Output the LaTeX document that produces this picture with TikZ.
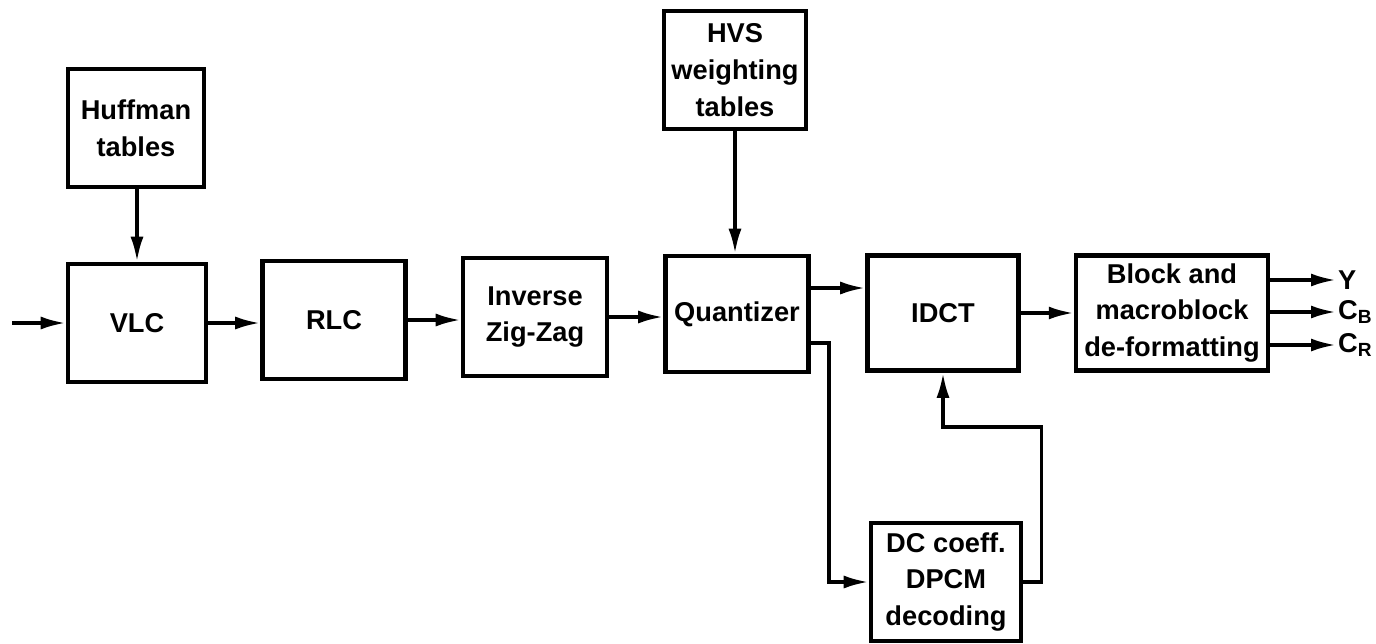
\documentclass[tikz,border=0pt]{standalone}
\usepackage{fontspec}
\setmainfont{Liberation Sans}
\usetikzlibrary{arrows.meta}

\begin{document}
\begin{tikzpicture}[x=0.02cm, y=-0.02cm,
    blk/.style={draw, line width=2.6pt, align=center, inner sep=2pt,
        font=\bfseries\fontsize{15.5}{21}\selectfont},
    lbl/.style={inner sep=1pt, font=\bfseries\fontsize{15.5}{21}\selectfont},
    flow/.style={line width=2pt, -{Latex[length=5mm,width=2.6mm]}}]
    \useasboundingbox (0,0) rectangle (1376,643);
    % tables
    \node[blk, minimum width=2.72cm, minimum height=2.36cm] (huff) at (136,128) {Huffman\\tables};
    \node[blk, minimum width=2.84cm, minimum height=2.36cm] (hvs) at (735,70) {HVS\\weighting\\tables};
    % main chain
    \node[blk, minimum width=2.76cm, minimum height=2.36cm] (vlc) at (137,323) {VLC};
    \node[blk, minimum width=2.86cm, minimum height=2.36cm] (rlc) at (334,320) {RLC};
    \node[blk, minimum width=2.88cm, minimum height=2.36cm] (izz) at (535,317) {Inverse\\Zig-Zag};
    \node[blk, minimum width=2.86cm, minimum height=2.32cm] (quant) at (737,314) {Quantizer};
    \node[blk, minimum width=3.02cm, minimum height=2.30cm] (idct) at (943,313) {IDCT};
    \node[blk, minimum width=3.84cm, minimum height=2.30cm] (block) at (1172,313) {Block and\\macroblock\\de-formatting};
    \node[blk, minimum width=3.00cm, minimum height=2.36cm] (dc) at (946,582) {DC coeff.\\DPCM\\decoding};
    % outputs
    \node[lbl, anchor=west] (outy) at (1336,280) {Y};
    \node[lbl, anchor=west] (outcb) at (1336,312) {C\textsubscript{B}};
    \node[lbl, anchor=west] (outcr) at (1336,345) {C\textsubscript{R}};
    \coordinate (in) at (12,323);

    \draw[flow] (in) -- (vlc.west);
    \draw[flow] (huff.south -| vlc.north) -- (vlc.north);
    \draw[flow] (hvs.south) -- (hvs.south |- quant.north);
    \draw[flow] (vlc.east) -- (vlc.east -| rlc.west);
    \draw[flow] (rlc.east) -- (rlc.east -| izz.west);
    \draw[flow] (izz.east) -- (izz.east -| quant.west);
    \draw[flow] ([yshift=0.52cm]quant.east) -- ([yshift=0.52cm]quant.east -| idct.west);
    \draw[flow] ([yshift=-0.58cm]quant.east) -- ++(18,0) |- (dc.west);
    \draw[flow] (dc.east) -- ++(18,0) -- ++(0,-155) -| (idct.south);
    \draw[flow] (idct.east) -- (block.west);
    \draw[flow] (block.east |- outy) -- (outy.west);
    \draw[flow] (block.east |- outcb) -- (outcb.west);
    \draw[flow] (block.east |- outcr) -- (outcr.west);
\end{tikzpicture}
\end{document}
